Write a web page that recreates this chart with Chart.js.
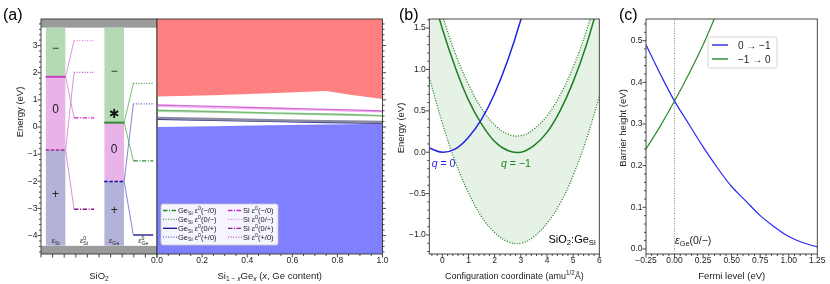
<!DOCTYPE html>
<html>
<head>
<meta charset="utf-8">
<title>SiO2:Ge defect levels</title>
<script src="https://cdn.jsdelivr.net/npm/chart.js@4.4.1/dist/chart.umd.min.js"></script>
<style>
  html, body { margin: 0; padding: 0; background: #fff; }
  #fig { position: relative; width: 830px; height: 284px; overflow: hidden; }
  #fig canvas { position: absolute; left: 0; top: 0; }
</style>
</head>
<body>
<div id="fig">
  <canvas id="sio2" width="830" height="284"></canvas>
  <canvas id="sige" width="830" height="284"></canvas>
  <canvas id="ccd" width="830" height="284"></canvas>
  <canvas id="barrier" width="830" height="284"></canvas>
</div>
<script>
const FONT = "'Liberation Sans', Arial, Helvetica, sans-serif";
const INK = '#222';

// ---- (a) left part: levels inside SiO2 (eV) ----
const rangeA = [-4.68, 3.98];
const sio2Edges = [3.66, -4.38];              // SiO2 CBM / VBM (grey bars)
const siLevels = [1.85, -0.85];               // Si   e(0/-), e(+/0)
const geLevels = [0.16, -2.01];               // GeSi e(0/-), e(+/0)
const siVert = [3.18, 0.34, 2.01, -3.03];     // Si   e0(0/-), e0(-/0), e0(+/0), e0(0/+)
const geVert = [1.61, -1.25, 0.85, -3.98];    // GeSi same order
const vertNames = ['(0/\u2212)', '(\u2212/0)', '(+/0)', '(0/+)'];
const siMarks = ['\u2212', '0', '+'];
const siMarkE = [2.89, 0.65, -2.5];
const geMarks = ['\u2212', '*', '0', '+'];
const geMarkE = [2.04, 0.5, -0.85, -3.08];

// ---- (a) right part: Si1-xGex ----
const geContent = [0, 0.25, 0.5, 0.75, 0.85, 1.0];
const cbSiGe = [1.12, 1.17, 1.24, 1.33, 1.20, 1.03];
const vbSiGe = [0.00, 0.03, 0.06, 0.09, 0.10, 0.12];
const siLvA = [0.81, 0.76, 0.70, 0.65, 0.63, 0.59];
const siLvB = [0.76, 0.71, 0.66, 0.61, 0.59, 0.56];
const geLvA = [0.62, 0.57, 0.52, 0.48, 0.46, 0.42];
const geLvB = [0.58, 0.54, 0.49, 0.45, 0.43, 0.40];
const geLvC = [0.33, 0.29, 0.25, 0.21, 0.20, 0.18];
const geLvD = [0.29, 0.25, 0.21, 0.17, 0.16, 0.14];

// ---- (b) configuration coordinate diagram ----
const rangeB = [-1.23, 1.61];
const cc = [-0.5, 0, 0.5, 1, 1.5, 2, 2.5, 3, 3.5, 4, 4.5, 5, 5.5, 6];
const eQ0 = [0.05, 0.00, 0.04, 0.18, 0.40, 0.71, 1.11, 1.60, 2.18, null, null, null, null, null];
const eQm1 = [2.05, 1.49, 1.02, 0.63, 0.34, 0.13, 0.02, 0.00, 0.08, 0.24, 0.50, 0.85, 1.29, 1.83];
const eQm1Up = [2.22, 1.66, 1.19, 0.82, 0.53, 0.33, 0.22, 0.20, 0.28, 0.44, 0.69, 1.03, 1.46, 1.99];
const eQm1Lo = [0.90, 0.35, -0.12, -0.49, -0.78, -0.97, -1.08, -1.10, -1.02, -0.86, -0.62, -0.28, 0.15, 0.67];

// ---- (c) barrier vs Fermi level ----
const rangeC = [-0.012, 0.552];
const fermi = [-0.25, -0.125, 0, 0.125, 0.25, 0.375, 0.5, 0.625, 0.75, 0.875, 1.0, 1.125, 1.25];
const barrier0to1 = [0.49, 0.42, 0.355, 0.30, 0.245, 0.195, 0.15, 0.115, 0.08, 0.053, 0.03, 0.015, 0.005];
const barrier1to0 = [0.24, 0.295, 0.355, 0.42, 0.49, 0.57, 0.65, null, null, null, null, null, null];
const epsGe = 0.0;

// styles
const DOT = [1, 1.6], DASHDOT = [4.5, 1.5, 1, 1.5], DASH = [3.5, 1.6];
const siVertStyle = [
  { c: '#e27ee2', d: DOT }, { c: '#d21fd2', d: DASHDOT }, { c: '#c24ac2', d: DOT }, { c: '#8e108e', d: DASHDOT }
];
const geVertStyle = [
  { c: '#3a9a3a', d: DOT }, { c: '#2a8a2a', d: DASHDOT }, { c: '#5a5ad0', d: DOT }, { c: '#10108a', d: [] }
];
// column positions inside the SiO2 axes (fraction of width)
const COL = { si: [0.04, 0.212], siV: [0.285, 0.457], ge: [0.545, 0.717], geV: [0.796, 0.968] };

Chart.defaults.font.family = FONT;
Chart.defaults.font.size = 8.5;
Chart.defaults.color = INK;

const pts = (xs, ys) => xs.map((x, i) => ({ x, y: ys[i] }));

function fmt(v, major, digits) {
  const r = v / major;
  if (Math.abs(r - Math.round(r)) > 1e-6) return '';
  return (Math.round(r) * major).toFixed(digits).replace('-', '\u2212');
}

function axis(pos, min, max, minor, major, digits, size, showLabels) {
  const horiz = pos === 'bottom';
  return {
    type: 'linear', position: pos, min, max, bounds: 'data',
    grid: { display: false, drawTicks: false },
    border: { display: false },
    ticks: {
      display: showLabels, autoSkip: false, maxRotation: 0,
      padding: horiz ? 2 : 3.5, color: INK, font: { size: 8.5 },
      callback: v => fmt(v, major, digits)
    },
    // ticks on multiples of the minor step, axis limits kept as given
    afterBuildTicks: s => {
      const t = [];
      for (let k = Math.ceil(min / minor - 1e-6); k <= Math.floor(max / minor + 1e-6); k++) {
        t.push({ value: Math.round(k * minor * 1e6) / 1e6 });
      }
      s.ticks = t;
    },
    afterFit: s => { if (horiz) s.height = size; else s.width = size; }
  };
}

// matplotlib-like frame and outward ticks
function mplAxes(list) {
  return {
    id: 'mplAxes',
    afterDatasetsDraw(chart) {
      const { ctx, chartArea: a } = chart;
      ctx.save();
      ctx.strokeStyle = '#333';
      ctx.lineWidth = 0.9;
      ctx.strokeRect(a.left, a.top, a.right - a.left, a.bottom - a.top);
      list.forEach(([id, major, side]) => {
        const s = chart.scales[id];
        s.ticks.forEach(t => {
          if (t.value < s.min - 1e-9 || t.value > s.max + 1e-9) return;
          const r = t.value / major;
          const len = Math.abs(r - Math.round(r)) < 1e-6 ? 3.5 : 2;
          const p = s.getPixelForValue(t.value);
          ctx.beginPath();
          if (side === 'bottom') { ctx.moveTo(p, a.bottom); ctx.lineTo(p, a.bottom + len); }
          if (side === 'left') { ctx.moveTo(a.left, p); ctx.lineTo(a.left - len, p); }
          if (side === 'right') { ctx.moveTo(a.right, p); ctx.lineTo(a.right + len, p); }
          ctx.stroke();
        });
      });
      ctx.restore();
    }
  };
}

// text with italic / sub / superscript runs: mode i=italic b=sub p=sup n=no advance
function rich(ctx, parts, x, y, size, color, align) {
  const font = m => (m.includes('i') ? 'italic ' : '') + (/[bp]/.test(m) ? size * 0.7 : size) + 'px ' + FONT;
  let w = 0;
  parts.forEach(([t, m]) => { ctx.font = font(m); if (!m.includes('n')) w += ctx.measureText(t).width; });
  let cx = align === 'center' ? x - w / 2 : align === 'right' ? x - w : x;
  ctx.save();
  ctx.fillStyle = color;
  ctx.textAlign = 'left';
  ctx.textBaseline = 'alphabetic';
  parts.forEach(([t, m]) => {
    ctx.font = font(m);
    const dy = m.includes('b') ? size * 0.22 : m.includes('p') ? -size * 0.42 : 0;
    ctx.fillText(t, cx, y + dy);
    if (!m.includes('n')) cx += ctx.measureText(t).width;
  });
  ctx.restore();
}

function vtitle(ctx, text, x, y, size) {
  ctx.save();
  ctx.translate(x, y);
  ctx.rotate(-Math.PI / 2);
  ctx.font = size + 'px ' + FONT;
  ctx.fillStyle = INK;
  ctx.textAlign = 'center';
  ctx.textBaseline = 'middle';
  ctx.fillText(text, 0, 0);
  ctx.restore();
}

function panelLabel(ctx, text, x) {
  ctx.save();
  ctx.font = '16px ' + FONT;
  ctx.fillStyle = '#000';
  ctx.textBaseline = 'alphabetic';
  ctx.fillText(text, x, 20);
  ctx.restore();
}

function base(area, yW, scales, plugins) {
  return {
    type: 'line',
    options: {
      responsive: false, animation: false, devicePixelRatio: 1,
      layout: { padding: { left: area[0] - yW, right: 830 - area[1], top: area[2], bottom: 0 } },
      scales,
      elements: { point: { radius: 0 }, line: { tension: 0 } },
      plugins: { legend: { display: false }, tooltip: { enabled: false } }
    },
    plugins
  };
}

// ================= (a) SiO2 part =================
const dsA1 = [];
const band = (xs, top, bot, color) => ({
  data: [{ x: xs[0], y: top }, { x: xs[1], y: top }], fill: { value: bot },
  backgroundColor: color, borderColor: 'rgba(0,0,0,0)', borderWidth: 0, order: 5
});
const seg = (data, color, dash, width, order) => ({
  data, borderColor: color, borderDash: dash, borderWidth: width, fill: false, order: order || 1
});

[[COL.si, siLevels], [COL.ge, geLevels]].forEach(([xs, lv]) => {
  dsA1.push(band(xs, sio2Edges[0], lv[0], '#b4dab4'));
  dsA1.push(band(xs, lv[0], lv[1], '#e9b2e9'));
  dsA1.push(band(xs, lv[1], sio2Edges[1], '#b3b3d9'));
});
dsA1.push(seg(pts(COL.si, [siLevels[0], siLevels[0]]), '#c23fc2', [], 2));
dsA1.push(seg(pts(COL.si, [siLevels[1], siLevels[1]]), '#a02ca0', DASH, 1.6));
dsA1.push(seg(pts(COL.ge, [geLevels[0], geLevels[0]]), '#2f8f2f', [], 2));
dsA1.push(seg(pts(COL.ge, [geLevels[1], geLevels[1]]), '#1414a0', DASH, 1.6));

function vertLevels(colX, vX, lv, vert, style, links) {
  vert.forEach((e, i) => {
    const k = i < 2 ? 0 : 1;
    dsA1.push(seg([{ x: colX[1], y: lv[k] }, { x: vX[0], y: e }], links[k], [], 0.8, 2));
    dsA1.push(seg(pts(vX, [e, e]), style[i].c, style[i].d, 1.3));
  });
}
vertLevels(COL.si, COL.siV, siLevels, siVert, siVertStyle, ['#d47cd4', '#c87ac8']);
vertLevels(COL.ge, COL.geV, geLevels, geVert, geVertStyle, ['#5aaa5a', '#6464d2']);

// grey SiO2 band regions (conduction / valence side), placed through the y scale
const sio2Bands = {
  id: 'sio2Bands',
  beforeDatasetsDraw(chart) {
    const { ctx, chartArea: a, scales: { y } } = chart;
    const cb = y.getPixelForValue(sio2Edges[0]);
    const vb = y.getPixelForValue(sio2Edges[1]);
    ctx.save();
    ctx.fillStyle = '#9b9b9b';
    ctx.fillRect(a.left, a.top, a.right - a.left, cb - a.top);
    ctx.fillRect(a.left, vb, a.right - a.left, a.bottom - vb);
    ctx.restore();
  }
};

const annotA1 = {
  id: 'annotA1',
  afterDraw(chart) {
    const { ctx, chartArea: a, scales: { x, y } } = chart;
    const mid = c => x.getPixelForValue((c[0] + c[1]) / 2);
    ctx.save();
    ctx.font = '12px ' + FONT;
    ctx.fillStyle = INK;
    ctx.textAlign = 'center';
    ctx.textBaseline = 'middle';
    siMarks.forEach((m, i) => ctx.fillText(m, mid(COL.si), y.getPixelForValue(siMarkE[i])));
    geMarks.forEach((m, i) => {
      const px = mid(COL.ge), py = y.getPixelForValue(geMarkE[i]);
      if (m !== '*') { ctx.fillText(m, px, py); return; }
      ctx.strokeStyle = '#111';
      ctx.lineWidth = 1.8;
      for (let k = 0; k < 3; k++) {
        const ang = Math.PI / 2 + k * Math.PI / 3;
        ctx.beginPath();
        ctx.moveTo(px - 4.6 * Math.cos(ang), py - 4.6 * Math.sin(ang));
        ctx.lineTo(px + 4.6 * Math.cos(ang), py + 4.6 * Math.sin(ang));
        ctx.stroke();
      }
    });
    ctx.restore();
    const by = y.getPixelForValue(sio2Edges[1]) - 3;
    rich(ctx, [['\u03b5', 'i'], ['Si', 'b']], mid(COL.si), by, 7.5, INK, 'center');
    rich(ctx, [['\u03b5', 'i'], ['0', 'pn'], ['Si', 'b']], mid(COL.siV), by, 7.5, INK, 'center');
    rich(ctx, [['\u03b5', 'i'], ['Ge', 'b']], mid(COL.ge), by, 7.5, INK, 'center');
    rich(ctx, [['\u03b5', 'i'], ['0', 'pn'], ['Ge', 'b']], mid(COL.geV), by, 7.5, INK, 'center');
    rich(ctx, [['SiO', ''], ['2', 'b']], (a.left + a.right) / 2, 278.8, 9.5, INK, 'center');
    vtitle(ctx, 'Energy (eV)', 20, 112, 9.5);
    panelLabel(ctx, '(a)', 3);
  }
};

const cfgA1 = base([41, 157, 19], 41, {
  x: axis('bottom', 0, 1, 0.1, 1e9, 0, 30, false),
  y: axis('left', rangeA[0], rangeA[1], 0.2, 1, 0, 41, true)
}, [sio2Bands, mplAxes([['x', 1e9, 'bottom'], ['y', 1, 'left']]), annotA1]);
cfgA1.data = { datasets: dsA1 };
new Chart(document.getElementById('sio2'), cfgA1);

// ================= (a) Si1-xGex part =================
const legendRowsA = [1, 0, 3, 2];   // (-/0), (0/-), (0/+), (+/0)
const annotA2 = {
  id: 'annotA2',
  afterDraw(chart) {
    const { ctx, chartArea: a } = chart;
    // legend box
    const L = a.left + 4, T = a.bottom - 50, W = 117, H = 41;
    ctx.save();
    ctx.fillStyle = 'rgba(255,255,255,0.92)';
    ctx.strokeStyle = '#c8c8c8';
    ctx.lineWidth = 0.8;
    ctx.beginPath();
    ctx.roundRect(L, T, W, H, 2);
    ctx.fill();
    ctx.stroke();
    ctx.restore();
    [['Ge', geVertStyle, 0], ['Si', siVertStyle, 65]].forEach(([who, style, dx]) => {
      legendRowsA.forEach((k, r) => {
        const cy = T + 6.5 + r * 8.9;
        ctx.save();
        ctx.strokeStyle = style[k].c;
        ctx.setLineDash(style[k].d);
        ctx.lineWidth = 1.3;
        ctx.beginPath();
        ctx.moveTo(L + dx + 2, cy);
        ctx.lineTo(L + dx + 16, cy);
        ctx.stroke();
        ctx.restore();
        const head = who === 'Ge' ? [['Ge', ''], ['Si', 'b'], [' ', '']] : [['Si ', '']];
        rich(ctx, head.concat([['\u03b5', 'i'], ['0', 'p'], [vertNames[k], '']]), L + dx + 17, cy + 2.6, 7.5, INK, 'left');
      });
    });
    rich(ctx, [['Si', ''], ['1 \u2212 ', 'b'], ['x', 'bi'], ['Ge', ''], ['x', 'bi'], [' (', ''], ['x', 'i'], [', Ge content)', '']],
      (a.left + a.right) / 2, 278.8, 9.5, INK, 'center');
  }
};

const cfgA2 = base([157, 382.5, 19], 0, {
  x: axis('bottom', 0, 1, 0.05, 0.2, 1, 30, true),
  y: axis('right', rangeA[0], rangeA[1], 0.2, 1, 0, 0, false)
}, [mplAxes([['x', 0.2, 'bottom'], ['y', 1, 'right']]), annotA2]);
cfgA2.data = {
  datasets: [
    { data: pts(geContent, cbSiGe), fill: 'end', backgroundColor: '#ff8080', borderColor: 'rgba(0,0,0,0)', borderWidth: 0, order: 5 },
    { data: pts(geContent, vbSiGe), fill: 'start', backgroundColor: '#8080ff', borderColor: 'rgba(0,0,0,0)', borderWidth: 0, order: 5 },
    seg(pts(geContent, siLvA), '#d46ad4', [], 1.3),
    seg(pts(geContent, siLvB), '#efb6ef', [], 1.3),
    seg(pts(geContent, geLvA), '#78bb78', [], 1.4),
    seg(pts(geContent, geLvB), '#b2dcb2', [], 1.3),
    seg(pts(geContent, geLvC), '#8a8aa2', [], 2.6),
    seg(pts(geContent, geLvD), '#2a2a84', [], 1.6)
  ]
};
new Chart(document.getElementById('sige'), cfgA2);

// ================= (b) =================
const annotB = {
  id: 'annotB',
  afterDraw(chart) {
    const { ctx, chartArea: a, scales: { x, y } } = chart;
    rich(ctx, [['q', 'i'], [' = 0', '']], x.getPixelForValue(-0.41), y.getPixelForValue(-0.13) + 3.7, 10.5, '#2323e6', 'left');
    rich(ctx, [['q', 'i'], [' = \u22121', '']], x.getPixelForValue(2.24), y.getPixelForValue(-0.13) + 3.7, 10.5, '#1f801f', 'left');
    rich(ctx, [['SiO', ''], ['2', 'b'], [':Ge', ''], ['Si', 'b']], x.getPixelForValue(5.86), y.getPixelForValue(-1.05) + 3.9, 11, '#000', 'right');
    rich(ctx, [['Configuration coordinate (amu', ''], ['1/2', 'p'], ['\u00c5)', '']], (a.left + a.right) / 2, 278.8, 9, INK, 'center');
    vtitle(ctx, 'Energy (eV)', 401.7, 128, 9.5);
    panelLabel(ctx, '(b)', 399);
  }
};
const cfgB = base([429.3, 599.3, 19], 40, {
  x: axis('bottom', -0.5, 6, 0.2, 1, 0, 30, true),
  y: axis('left', rangeB[0], rangeB[1], 0.1, 0.5, 1, 40, true)
}, [mplAxes([['x', 1, 'bottom'], ['y', 0.5, 'left']]), annotB]);
cfgB.data = {
  datasets: [
    { data: pts(cc, eQ0), borderColor: '#2323e6', borderWidth: 1.5, tension: 0.4, fill: false },
    { data: pts(cc, eQm1), borderColor: '#1f801f', borderWidth: 1.5, tension: 0.4, fill: false },
    { data: pts(cc, eQm1Up), borderColor: '#1f801f', borderWidth: 1.3, borderDash: DOT, tension: 0.4, fill: false },
    { data: pts(cc, eQm1Lo), borderColor: '#1f801f', borderWidth: 1.3, borderDash: DOT, tension: 0.4, fill: 2, backgroundColor: 'rgba(0,128,0,0.1)' }
  ]
};
new Chart(document.getElementById('ccd'), cfgB);

// ================= (c) =================
const annotC = {
  id: 'annotC',
  afterDraw(chart) {
    const { ctx, chartArea: a, scales: { x, y } } = chart;
    rich(ctx, [['\u03b5', 'i'], ['Ge', 'b'], ['(0/\u2212)', '']], x.getPixelForValue(epsGe) + 0.5, y.getPixelForValue(0.022) + 3.7, 10.5, INK, 'left');
    // legend
    const L = a.left + 62, T = a.top + 18, W = 69, H = 31;
    ctx.save();
    ctx.fillStyle = 'rgba(255,255,255,0.9)';
    ctx.strokeStyle = '#cccccc';
    ctx.lineWidth = 0.8;
    ctx.beginPath();
    ctx.roundRect(L, T, W, H, 2);
    ctx.fill();
    ctx.stroke();
    ctx.restore();
    chart.data.datasets.slice(0, 2).forEach((ds, i) => {
      const cy = T + 8 + i * 14;
      ctx.save();
      ctx.strokeStyle = ds.borderColor;
      ctx.lineWidth = 1.4;
      ctx.beginPath();
      ctx.moveTo(L + 4, cy);
      ctx.lineTo(L + 20, cy);
      ctx.stroke();
      ctx.restore();
      rich(ctx, [[ds.label, '']], L + 30, cy + 3.6, 10, INK, 'left');
    });
    rich(ctx, [['Fermi level (eV)', '']], (a.left + a.right) / 2, 278.8, 9.5, INK, 'center');
    vtitle(ctx, 'Barrier height (eV)', 623.3, 128, 9.5);
    panelLabel(ctx, '(c)', 619);
  }
};
const cfgC = base([646, 817.3, 19], 36, {
  x: axis('bottom', -0.25, 1.25, 0.05, 0.25, 2, 30, true),
  y: axis('left', rangeC[0], rangeC[1], 0.02, 0.1, 1, 36, true)
}, [mplAxes([['x', 0.25, 'bottom'], ['y', 0.1, 'left']]), annotC]);
cfgC.data = {
  datasets: [
    { label: '0 \u2192 \u22121', data: pts(fermi, barrier0to1), borderColor: '#2828f0', borderWidth: 1.2, tension: 0.4, fill: false },
    { label: '\u22121 \u2192 0', data: pts(fermi, barrier1to0), borderColor: '#2a8a2a', borderWidth: 1.2, tension: 0.4, fill: false },
    { data: [{ x: epsGe, y: rangeC[0] }, { x: epsGe, y: rangeC[1] }], borderColor: '#8a8a8a', borderDash: [1, 1.5], borderWidth: 1, fill: false }
  ]
};
new Chart(document.getElementById('barrier'), cfgC);
</script>
</body>
</html>
